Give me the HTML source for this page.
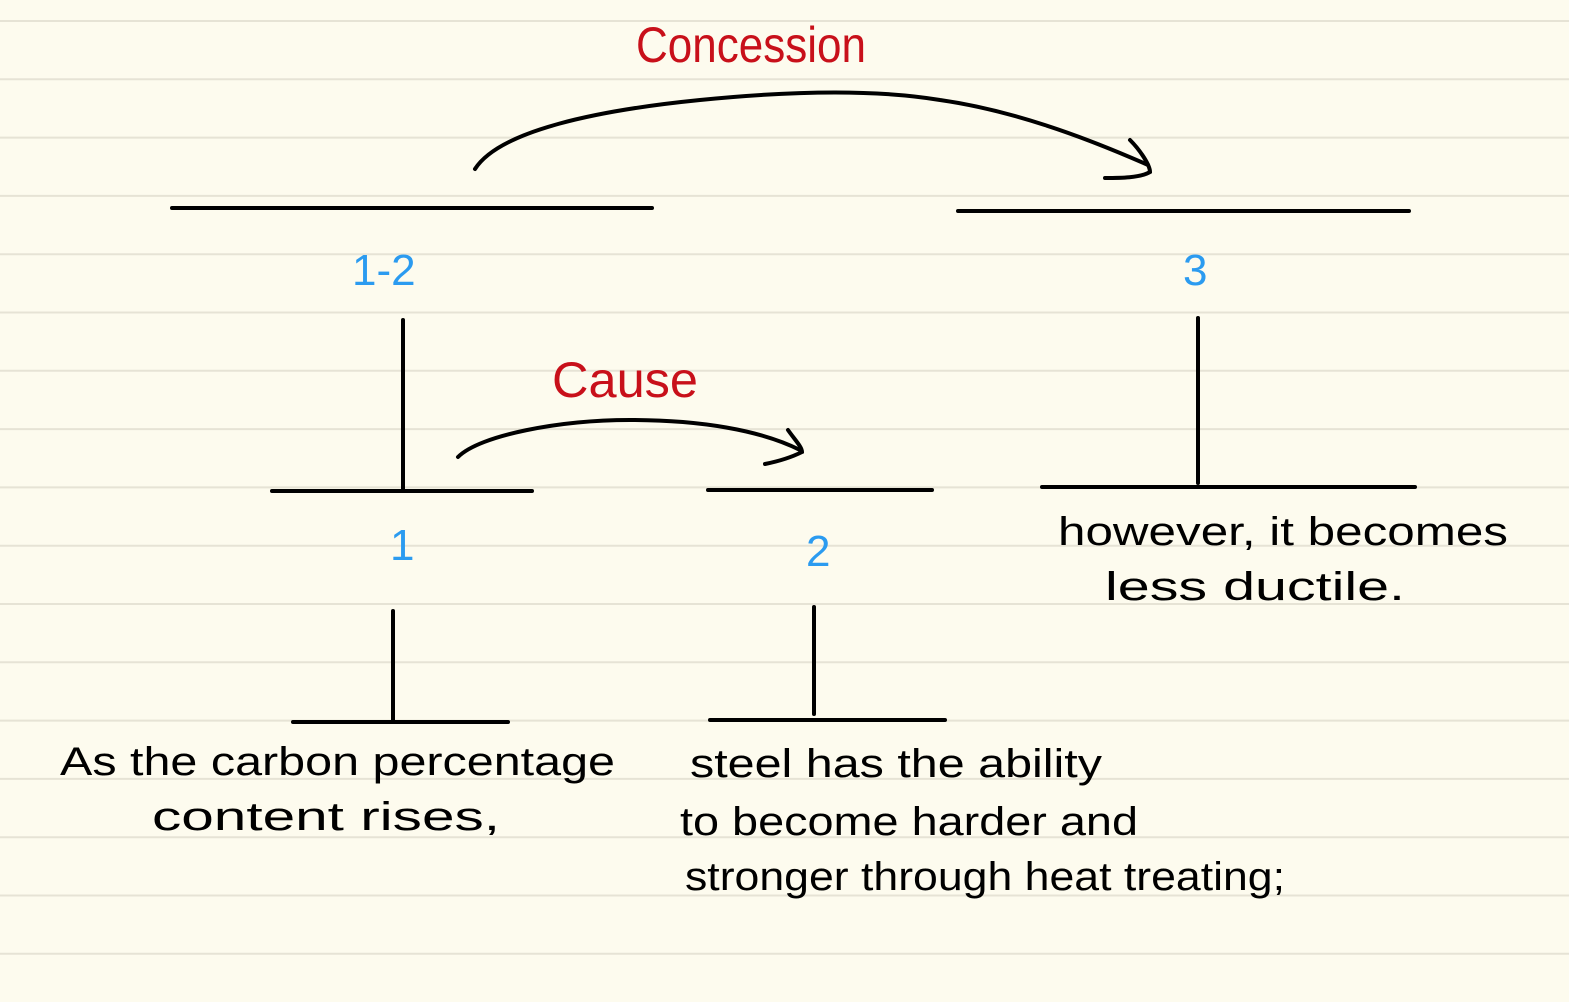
<!DOCTYPE html>
<html><head><meta charset="utf-8"><style>
html,body{margin:0;padding:0;background:#fdfbee;}
svg{display:block}
text{font-family:"Liberation Sans",sans-serif;}
</style></head><body>
<svg width="1569" height="1002" viewBox="0 0 1569 1002" xmlns="http://www.w3.org/2000/svg">
<rect width="1569" height="1002" fill="#fdfbee"/>
<g stroke="#e6e3d5" stroke-width="2">
<line x1="0" y1="21" x2="1569" y2="21"/><line x1="0" y1="79.3" x2="1569" y2="79.3"/>
<line x1="0" y1="137.6" x2="1569" y2="137.6"/><line x1="0" y1="195.9" x2="1569" y2="195.9"/>
<line x1="0" y1="254.2" x2="1569" y2="254.2"/><line x1="0" y1="312.5" x2="1569" y2="312.5"/>
<line x1="0" y1="370.8" x2="1569" y2="370.8"/><line x1="0" y1="429.1" x2="1569" y2="429.1"/>
<line x1="0" y1="487.4" x2="1569" y2="487.4"/><line x1="0" y1="545.7" x2="1569" y2="545.7"/>
<line x1="0" y1="604" x2="1569" y2="604"/><line x1="0" y1="662.3" x2="1569" y2="662.3"/>
<line x1="0" y1="720.6" x2="1569" y2="720.6"/><line x1="0" y1="778.9" x2="1569" y2="778.9"/>
<line x1="0" y1="837.2" x2="1569" y2="837.2"/><line x1="0" y1="895.5" x2="1569" y2="895.5"/>
<line x1="0" y1="953.8" x2="1569" y2="953.8"/>
</g>
<g stroke="#000" stroke-width="4" stroke-linecap="round" fill="none">
<line x1="172" y1="208" x2="652" y2="208"/>
<line x1="958" y1="211" x2="1409" y2="211"/>
<line x1="403" y1="320" x2="403" y2="491"/>
<line x1="272" y1="491" x2="532" y2="491"/>
<line x1="708" y1="490" x2="932" y2="490"/>
<line x1="1198" y1="318" x2="1198" y2="483"/>
<line x1="1042" y1="487" x2="1415" y2="487"/>
<line x1="393" y1="611" x2="393" y2="722"/>
<line x1="293" y1="722" x2="508" y2="722"/>
<line x1="814" y1="607" x2="814" y2="714"/>
<line x1="710" y1="720" x2="945" y2="720"/>
<path d="M475 169 C500 130 600 110 700 100 C800 90 880 90 940 100 C1010 110 1080 135 1148 165"/>
<path d="M1130 140 C1140 150 1150 165 1150 172 C1140 178 1120 178 1105 178"/>
<path d="M458 457 C480 435 560 420 630 420 C700 420 760 430 800 450"/>
<path d="M788 430 C795 440 802 447 802 452 C790 458 775 462 765 464"/>
</g>
<g fill="#c8101a" font-size="50">
<text x="636" y="62" textLength="230" lengthAdjust="spacingAndGlyphs">Concession</text>
<text x="552" y="397" textLength="146" lengthAdjust="spacingAndGlyphs">Cause</text>
</g>
<g fill="#2b9bf0" font-size="44">
<text x="352" y="285">1-2</text>
<text x="1183" y="285">3</text>
<text x="390" y="560">1</text>
<text x="806" y="566">2</text>
</g>
<g fill="#000" font-size="40">
<text x="60" y="775" textLength="555" lengthAdjust="spacingAndGlyphs">As the carbon percentage</text>
<text x="152" y="830" textLength="348" lengthAdjust="spacingAndGlyphs">content  rises,</text>
<text x="690" y="777" textLength="412" lengthAdjust="spacingAndGlyphs">steel has the ability</text>
<text x="680" y="835" textLength="458" lengthAdjust="spacingAndGlyphs">to become harder and</text>
<text x="685" y="890" textLength="600" lengthAdjust="spacingAndGlyphs">stronger through heat treating;</text>
<text x="1058" y="545" textLength="450" lengthAdjust="spacingAndGlyphs">however, it becomes</text>
<text x="1105" y="600" textLength="300" lengthAdjust="spacingAndGlyphs">less  ductile.</text>
</g>
</svg>
</body></html>
